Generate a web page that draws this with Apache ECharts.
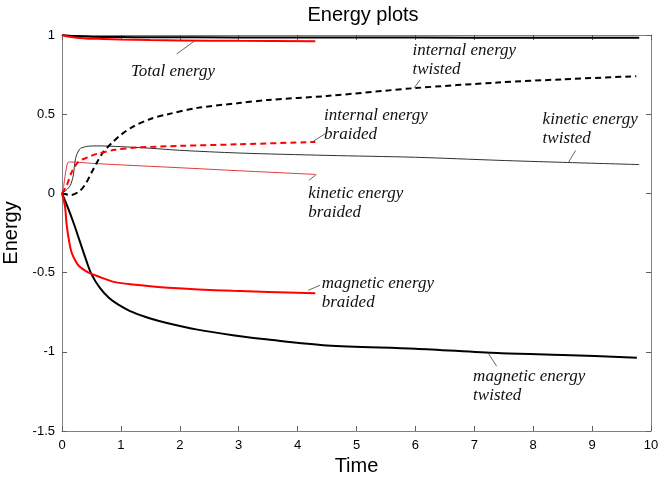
<!DOCTYPE html>
<html>
<head>
<meta charset="utf-8">
<script src="https://cdn.jsdelivr.net/npm/echarts@6/dist/echarts.min.js"></script>
<style>html,body{margin:0;padding:0;background:#fff}#c{width:659px;height:479px}</style>
</head>
<body>
<div id="c"></div>
<script>
// ---- data ----
const xTicks = [0,1,2,3,4,5,6,7,8,9,10];
const yTicks = [-1.5,-1,-0.5,0,0.5,1];

const totalTwistedT = [0,0.2,0.5,1,1.5,3,5,7,9.8];
const totalTwistedE = [1,0.993,0.989,0.987,0.986,0.985,0.984,0.983,0.982];
const totalBraidedT = [0,0.1,0.25,0.45,0.7,1,1.5,2,3,4.3];
const totalBraidedE = [1,0.99,0.983,0.977,0.975,0.972,0.968,0.966,0.963,0.961];

const internalTwistedT = [0,0.15,0.3,0.4,0.5,0.6,0.7,0.85,1,1.2,1.5,1.8,2.3,3,3.5,4.5,6,7.4,8.5,9.75];
const internalTwistedE = [0,-0.01,0.015,0.06,0.13,0.2,0.26,0.32,0.37,0.42,0.47,0.5,0.54,0.57,0.59,0.615,0.665,0.70,0.72,0.74];
const internalBraidedT = [0,0.08,0.16,0.28,0.45,0.6,0.9,1.3,2,3,4.3];
const internalBraidedE = [0,0.05,0.13,0.2,0.23,0.25,0.275,0.29,0.30,0.31,0.325];

const kineticTwistedT = [0,0.07,0.14,0.19,0.23,0.3,0.38,0.45,0.6,1,1.5,2,3,4.5,6,7.4,8.5,9.8];
const kineticTwistedE = [0,0.02,0.05,0.11,0.22,0.28,0.293,0.298,0.30,0.295,0.285,0.272,0.255,0.24,0.228,0.209,0.196,0.182];
const kineticBraidedT = [0,0.03,0.06,0.1,0.15,0.5,1,2,3,4.3];
const kineticBraidedE = [0,0.05,0.13,0.195,0.198,0.19,0.18,0.162,0.143,0.12];

const magneticTwistedT = [0,0.1,0.2,0.3,0.4,0.5,0.65,0.8,0.95,1.2,1.5,1.8,2.3,2.9,3.5,4.5,6,7.4,8.5,9.76];
const magneticTwistedE = [0,-0.09,-0.19,-0.3,-0.41,-0.51,-0.6,-0.66,-0.70,-0.75,-0.79,-0.82,-0.86,-0.895,-0.923,-0.96,-0.98,-1.008,-1.02,-1.037];
const magneticBraidedT = [0,0.05,0.08,0.12,0.16,0.22,0.28,0.36,0.45,0.62,0.9,1.2,1.8,2.9,4.3];
const magneticBraidedE = [0,-0.08,-0.2,-0.3,-0.37,-0.42,-0.455,-0.48,-0.5,-0.525,-0.56,-0.575,-0.595,-0.615,-0.63];

// annotations: text anchor (data coords, left / first-line centre) and leader line ends
const annoTexts = ['Total energy','internal energy\ntwisted','internal energy\nbraided','kinetic energy\ntwisted','kinetic energy\nbraided','magnetic energy\nbraided','magnetic energy\ntwisted'];
const annoAnchorT = [1.17,5.95,4.45,8.16,4.18,4.41,6.98];
const annoAnchorE = [0.767,0.902,0.489,0.465,0.002,-0.566,-1.159];
const leaderFromT = [1.95,5.98,4.27,8.6,4.32,4.18,7.24];
const leaderFromE = [0.881,0.667,0.33,0.197,0.12,-0.612,-1.011];
const leaderToT = [2.26,6.08,4.47,8.72,4.19,4.38,7.38];
const leaderToE = [0.965,0.717,0.377,0.271,0.082,-0.58,-1.091];

const zip = (a,b) => a.map((v,i)=>[v,b[i]]);

const chart = echarts.init(document.getElementById('c'), null, {renderer:'canvas'});
const axisCommon = {
  type:'value',
  axisLine:{show:true,onZero:false,lineStyle:{color:'#808080',width:1}},
  axisTick:{show:true,inside:true,length:5,lineStyle:{color:'#606060'}},
  splitLine:{show:false}
};
function line(data,color,width,dashed,z){
  return {type:'line',data:data,showSymbol:false,symbol:'none',smooth:0.3,
    lineStyle:{color:color,width:width,type:dashed?[6,4]:'solid'},z:z||2,silent:true,animation:false};
}
const leaderSeries = annoTexts.map((_,i)=>({
  type:'line',data:[[leaderFromT[i],leaderFromE[i]],[leaderToT[i],leaderToE[i]]],showSymbol:false,symbol:'none',
  lineStyle:{color:'#404040',width:0.8},silent:true,animation:false,z:3
}));

chart.setOption({
  animation:false,
  title:{text:'Energy plots',left:358,top:0,textAlign:'center',textStyle:{fontFamily:'Liberation Sans, Arial',fontSize:20,fontWeight:'normal',color:'#000'}},
  grid:{left:62,right:8,top:35,bottom:48,containLabel:false,outerBoundsMode:'none'},
  xAxis:[
    Object.assign({},axisCommon,{position:'bottom',min:0,max:10,interval:1,
      axisLabel:{color:'#000',fontSize:13,fontFamily:'Liberation Sans, Arial',margin:8},
      name:'Time',nameLocation:'middle',nameGap:24,nameTextStyle:{color:'#000',fontSize:20,fontFamily:'Liberation Sans, Arial'}}),
    Object.assign({},axisCommon,{position:'top',min:0,max:10,interval:1,axisLabel:{show:false}})
  ],
  yAxis:[
    Object.assign({},axisCommon,{position:'left',min:-1.5,max:1,interval:0.5,
      axisLabel:{color:'#000',fontSize:13,fontFamily:'Liberation Sans, Arial',margin:7},
      name:'Energy',nameLocation:'middle',nameGap:40,nameTextStyle:{color:'#000',fontSize:20,fontFamily:'Liberation Sans, Arial'}}),
    Object.assign({},axisCommon,{position:'right',min:-1.5,max:1,interval:0.5,axisLabel:{show:false}})
  ],
  series:[
    line(zip(kineticTwistedT,kineticTwistedE),'#303030',1,false),
    line(zip(kineticBraidedT,kineticBraidedE),'#e03a3a',1,false),
    line(zip(internalTwistedT,internalTwistedE),'#000',2,true),
    line(zip(internalBraidedT,internalBraidedE),'#f00',2,true),
    line(zip(magneticTwistedT,magneticTwistedE),'#000',2,false),
    line(zip(magneticBraidedT,magneticBraidedE),'#f00',2,false),
    line(zip(totalTwistedT,totalTwistedE),'#000',2,false,4),
    line(zip(totalBraidedT,totalBraidedE),'#f00',2,false,5)
  ].concat(leaderSeries)
});

const graphics = annoTexts.map((txt,i)=>{
  const p = chart.convertToPixel({xAxisIndex:0,yAxisIndex:0},[annoAnchorT[i],annoAnchorE[i]]);
  return {type:'text',x:p[0],y:p[1]-9.5,silent:true,z:10,
    style:{text:txt,fill:'#111',font:'italic 17px "Liberation Serif", "DejaVu Serif", serif',lineHeight:19,textVerticalAlign:'top',textAlign:'left'}};
});
chart.setOption({graphic:graphics});
</script>
</body>
</html>
